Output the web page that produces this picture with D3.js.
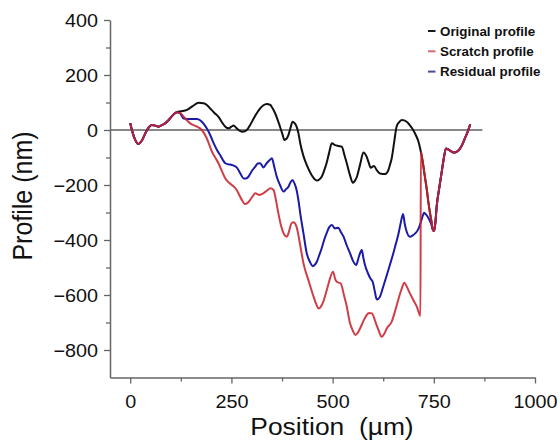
<!DOCTYPE html>
<html>
<head>
<meta charset="utf-8">
<script src="https://cdn.jsdelivr.net/npm/d3@7"></script>
<style>
  html, body { margin: 0; padding: 0; background: #fff; }
  svg { display: block; font-family: "Liberation Sans", Arial, sans-serif; }
</style>
</head>
<body>
<svg id="chart" width="560" height="446"></svg>
<script>
// ---- data (position µm, profile nm) ----
const originalProfile = [
  [0,25],[5,-5],[12,-35],[20,-51],[28,-40],[38,-10],[46,10],[53,18],[62,16],[70,12],[78,18],[86,24],[96,38],[106,55],[115,65],
  [125,68],[140,73],[155,88],[169,99],[181,97],[190,90],[197,79],[208,62],[218,48],[228,25],[235,12],[243,6],[250,12],[255,16],
  [263,6],[270,-2],[278,-6],[288,0],[297,20],[305,42],[313,62],[321,79],[329,90],[337,95],[346,91],[352,78],[358,61],[364,38],
  [370,12],[376,-15],[381,-36],[386,-32],[391,-18],[396,8],[401,30],[406,25],[411,12],[416,-15],[420,-48],[428,-95],[436,-127],
  [448,-164],[455,-178],[461,-184],[467,-180],[473,-170],[479,-148],[485,-121],[491,-85],[498,-48],[506,-55],[515,-58],[523,-61],
  [529,-90],[535,-121],[543,-165],[550,-192],[555,-185],[560,-170],[568,-125],[576,-82],[584,-97],[589,-118],[594,-137],[602,-131],
  [610,-148],[617,-158],[630,-160],[638,-145],[642,-125],[646,-103],[652,-45],[658,12],[664,28],[671,36],[683,30],[692,15],[699,0],
  [706,-20],[712,-42],[718,-79],[722,-110],[728,-170],[733,-220],[737,-267],[741,-305],[745,-340],[748,-366],[751,-366],[754,-335],
  [757,-279],[763,-215],[769,-158],[775,-100],[780,-67],[785,-70],[790,-75],[800,-82],[808,-78],[815,-67],[822,-48],[827,-30],
  [834,-5],[840,21]
];
const scratchProfile = [
  [0,25],[5,-5],[12,-35],[20,-51],[28,-40],[38,-10],[46,10],[53,18],[62,16],[70,12],[78,18],[86,24],[96,38],[106,55],[115,65],
  [125,60],[136,42],[148,24],[165,12],[177,0],[189,-30],[202,-79],[210,-100],[218,-121],[226,-148],[235,-176],[243,-190],[251,-200],
  [263,-218],[270,-238],[276,-255],[284,-269],[290,-265],[296,-255],[303,-240],[309,-230],[319,-236],[329,-230],[338,-220],[346,-212],
  [354,-218],[360,-255],[366,-303],[373,-350],[379,-376],[387,-388],[393,-365],[398,-340],[403,-335],[411,-352],[420,-420],[428,-485],
  [440,-545],[453,-606],[460,-635],[465,-649],[471,-642],[477,-624],[484,-590],[490,-558],[501,-515],[506,-540],[510,-552],[520,-558],
  [528,-600],[535,-642],[543,-703],[550,-730],[556,-745],[562,-738],[568,-721],[576,-695],[584,-673],[590,-665],[597,-667],[607,-703],
  [614,-730],[621,-752],[628,-740],[634,-721],[646,-697],[654,-660],[662,-618],[670,-580],[677,-555],[684,-572],[691,-594],[700,-620],
  [708,-642],[717,-676],[718,-79],[722,-110],[728,-170],[733,-220],[737,-267],[741,-305],[745,-340],[748,-366],[751,-366],[754,-335],
  [757,-279],[763,-215],[769,-158],[775,-100],[780,-67],[785,-70],[790,-75],[800,-82],[808,-78],[815,-67],[822,-48],[827,-30],
  [834,-5],[840,21]
];
const residualProfile = [
  [0,25],[5,-5],[12,-35],[20,-51],[28,-40],[38,-10],[46,10],[53,18],[62,16],[70,12],[78,18],[86,24],[96,38],[106,55],[115,65],
  [123,61],[132,42],[148,40],[165,40],[177,30],[189,6],[198,-20],[206,-48],[214,-72],[222,-91],[235,-121],[243,-125],[251,-127],
  [263,-136],[272,-158],[280,-176],[286,-176],[292,-170],[300,-150],[309,-133],[315,-122],[321,-121],[329,-136],[337,-121],[344,-110],
  [350,-103],[356,-135],[362,-170],[370,-200],[379,-224],[385,-215],[391,-206],[396,-190],[401,-182],[406,-195],[411,-218],[416,-260],
  [420,-303],[428,-376],[436,-448],[444,-480],[451,-495],[456,-490],[461,-479],[467,-455],[473,-430],[479,-400],[485,-376],[491,-355],
  [498,-345],[506,-358],[514,-355],[520,-370],[527,-388],[535,-420],[543,-448],[550,-475],[558,-491],[565,-460],[572,-436],[576,-465],
  [580,-491],[587,-520],[593,-539],[599,-552],[604,-585],[609,-616],[613,-614],[617,-606],[625,-570],[634,-527],[642,-488],[650,-448],
  [656,-415],[662,-382],[668,-340],[674,-305],[678,-340],[683,-370],[691,-388],[698,-383],[704,-376],[710,-365],[714,-352],[720,-325],
  [726,-301],[731,-308],[737,-321],[743,-340],[748,-362],[751,-366],[754,-335],
  [757,-279],[763,-215],[769,-158],[775,-100],[780,-67],[785,-70],[790,-75],[800,-82],[808,-78],[815,-67],[822,-48],[827,-30],
  [834,-5],[840,21]
];
const xTicks = [0, 250, 500, 750, 1000];
const xMinorTicks = [125, 375, 625, 875];
const yTicks = [-800, -600, -400, -200, 0, 200, 400];
const yMinorTicks = [-700, -500, -300, -100, 100, 300];
const legendLabels = ["Original profile", "Scratch profile", "Residual profile"];
const lineColors = ["#111111", "#c8232d", "#1b1ba6"];
const legendSwatch = ["#1a1a1a", "#d36a78", "#4b4b94"];

// ---- layout ----
const svg = d3.select("#chart");
const x = d3.scaleLinear().domain([-50, 1000]).range([110, 535]);
const y = d3.scaleLinear().domain([-900, 400]).range([377.5, 20]);
const axisColor = "#666";
const stretch = 1.1;

// zero line
svg.append("line")
  .attr("x1", x(-50)).attr("x2", x(870))
  .attr("y1", y(0)).attr("y2", y(0))
  .attr("stroke", "#111").attr("stroke-width", 1);

// axes
const gx = svg.append("g").attr("transform", `translate(0,${y(-900)})`)
  .call(d3.axisBottom(x).tickValues(xTicks).tickSize(6).tickSizeOuter(0).tickFormat(d3.format("d")));
const gxm = svg.append("g").attr("transform", `translate(0,${y(-900)})`)
  .call(d3.axisBottom(x).tickValues(xMinorTicks).tickSize(4).tickSizeOuter(0).tickFormat(""));
const gy = svg.append("g").attr("transform", `translate(${x(-50)},0)`)
  .call(d3.axisLeft(y).tickValues(yTicks).tickSize(6).tickSizeOuter(0).tickFormat(d3.format("d")));
const gym = svg.append("g").attr("transform", `translate(${x(-50)},0)`)
  .call(d3.axisLeft(y).tickValues(yMinorTicks).tickSize(4).tickSizeOuter(0).tickFormat(""));

[gx, gxm, gy, gym].forEach(g => {
  g.select(".domain").attr("stroke", axisColor).attr("stroke-width", 1.5);
  g.selectAll(".tick line").attr("stroke", axisColor).attr("stroke-width", 1.3);
});
gxm.select(".domain").remove();
gym.select(".domain").remove();

gx.selectAll(".tick text")
  .attr("fill", "#111").attr("font-size", 18)
  .attr("y", 0).attr("dy", 0)
  .attr("transform", function() { return `translate(0,30) scale(${stretch},1)`; });
gy.selectAll(".tick text")
  .attr("fill", "#111").attr("font-size", 18)
  .attr("x", 0).attr("dy", "0.36em")
  .attr("transform", `translate(-12,0) scale(${stretch},1)`);

// axis titles
svg.append("text")
  .attr("transform", `translate(332,435) scale(${stretch},1)`)
  .attr("text-anchor", "middle").attr("font-size", 24).attr("fill", "#111")
  .style("white-space", "pre")
  .text("Position  (µm)");
svg.append("text")
  .attr("transform", `translate(32,196) scale(${stretch},1) rotate(-90)`)
  .attr("text-anchor", "middle").attr("font-size", 25).attr("fill", "#111")
  .text("Profile (nm)");

// lines
const line = d3.line().x(d => x(d[0])).y(d => y(d[1])).curve(d3.curveMonotoneX);
const series = [originalProfile, residualProfile, scratchProfile];
const seriesColors = [lineColors[0], lineColors[2], lineColors[1]];
const seriesOpacity = [1, 1, 0.88];
series.forEach((s, i) => {
  svg.append("path")
    .datum(s)
    .attr("d", line)
    .attr("fill", "none")
    .attr("stroke", seriesColors[i])
    .attr("stroke-opacity", seriesOpacity[i])
    .attr("stroke-width", 2)
    .attr("stroke-linejoin", "round");
});

// legend
const legend = svg.append("g");
legendLabels.forEach((lab, i) => {
  const cy = 31 + i * 20.3;
  legend.append("line")
    .attr("x1", 428).attr("x2", 435.5)
    .attr("y1", cy).attr("y2", cy)
    .attr("stroke", legendSwatch[i]).attr("stroke-width", 2);
  legend.append("text")
    .attr("transform", `translate(440,${cy + 4.5}) scale(1.03,1)`)
    .attr("font-size", 13).attr("font-weight", "bold").attr("fill", "#111")
    .text(lab);
});
</script>
</body>
</html>
